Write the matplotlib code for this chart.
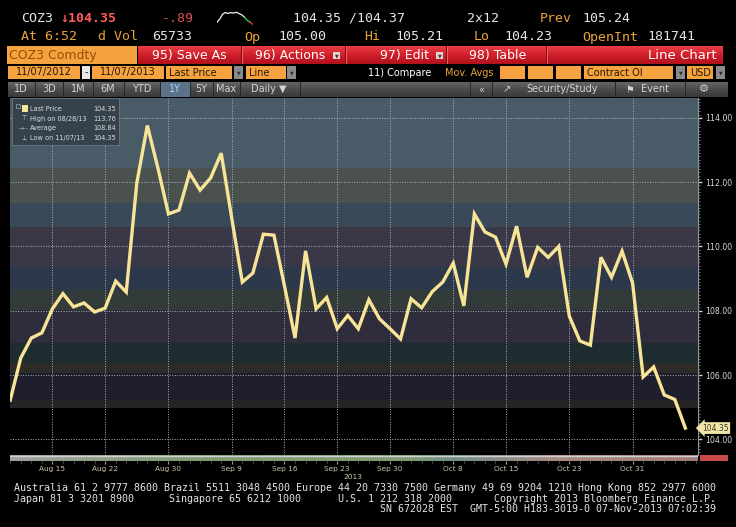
import numpy as np
import pandas as pd
import matplotlib
matplotlib.use('Agg')
import matplotlib.pyplot as plt
from matplotlib.patches import Rectangle
from matplotlib import font_manager as fm
from matplotlib.ticker import MultipleLocator
from matplotlib.colors import LinearSegmentedColormap
from matplotlib.transforms import blended_transform_factory

# ---------------- data ----------------
dates = pd.bdate_range('2013-08-09', '2013-11-07')
prices = [105.22, 106.53, 107.15, 107.31, 108.06, 108.53, 108.12, 108.24, 107.96, 108.08,
          108.92, 108.58, 111.97, 113.76, 112.44, 111.01, 111.13, 112.28, 111.75, 112.13,
          112.90, 110.88, 108.89, 109.17, 110.38, 110.35, 108.77, 107.15, 109.86, 108.06,
          108.41, 107.44, 107.85, 107.44, 108.34, 107.75, 107.44, 107.12, 108.37, 108.09,
          108.59, 108.89, 109.48, 108.15, 111.01, 110.45, 110.29, 109.45, 110.63, 109.04,
          109.97, 109.66, 110.00, 107.83, 107.06, 106.93, 109.66, 109.04, 109.85, 108.86,
          105.94, 106.25, 105.38, 105.24, 104.35]
tick_dates = ['2013-08-15', '2013-08-22', '2013-08-30', '2013-09-09', '2013-09-16',
              '2013-09-23', '2013-09-30', '2013-10-08', '2013-10-15', '2013-10-23',
              '2013-10-31']
tick_labels = ['Aug 15', 'Aug 22', 'Aug 30', 'Sep 9', 'Sep 16', 'Sep 23', 'Sep 30',
               'Oct 8', 'Oct 15', 'Oct 23', 'Oct 31']
y_ticks = [104, 106, 108, 110, 112, 114]
last_price = 104.35
legend_labels = ['Last Price', 'High on 08/28/13', 'Average', 'Low on 11/07/13']
legend_values = ['104.35', '113.76', '108.84', '104.35']
spark_values = [3, 5, 8, 9, 8.5, 9, 8.7, 9.2, 8.4, 7.5, 6, 4, 3, 1.5]

W, H = 736, 527
fig = plt.figure(figsize=(W / 100, H / 100), dpi=100, facecolor='black')

names = {f.name for f in fm.fontManager.ttflist}
NARROW = 'Liberation Sans Narrow' if 'Liberation Sans Narrow' in names else 'DejaVu Sans'
MONO = ['DejaVu Sans Mono', 'DejaVu Sans']


def fx(x):
    return x / W


def fy(y):
    return 1 - y / H


def ftext(x, y, s, **kw):
    kw.setdefault('va', 'center')
    return fig.text(fx(x), fy(y), s, **kw)


def frect(x0, y0, x1, y1, fc, ec='none', lw=0, alpha=1.0, z=1):
    r = Rectangle((fx(x0), fy(y1)), (x1 - x0) / W, (y1 - y0) / H,
                  transform=fig.transFigure, facecolor=fc, edgecolor=ec,
                  linewidth=lw, alpha=alpha, zorder=z)
    fig.patches.append(r)
    return r


# ---------------- header rows ----------------
WHITE = '#e6e6e6'
AMBER = '#eba33a'
RED = '#ff5a5a'
row1 = 18
row2 = 37
ftext(21, row1, 'COZ3', color=WHITE, fontsize=9.5, family=MONO)
ftext(60, row1, '\u2193104.35', color=RED, fontsize=9.5, family=MONO, fontweight='bold')
ftext(162, row1, '-.89', color='#e05050', fontsize=9.5, family=MONO)
ftext(293, row1, '104.35 /104.37', color=WHITE, fontsize=9.5, family=MONO)
ftext(467, row1, '2x12', color=WHITE, fontsize=9.5, family=MONO)
ftext(540, row1, 'Prev', color=AMBER, fontsize=9.5, family=MONO)
ftext(582, row1, '105.24', color=WHITE, fontsize=9.5, family=MONO)

row2_items = [(21, 'At 6:52', AMBER), (98, 'd Vol', AMBER), (152, '65733', WHITE),
              (244, 'Op', AMBER), (278, '105.00', WHITE), (364, 'Hi', AMBER),
              (395, '105.21', WHITE), (474, 'Lo', AMBER), (504, '104.23', WHITE),
              (582, 'OpenInt', AMBER), (647, '181741', WHITE)]
for x, s, c in row2_items:
    ftext(x, row2, s, color=c, fontsize=9.5, family=MONO)

# sparkline
sp = fig.add_axes([fx(217), fy(27), 36 / W, 16 / H])
sp.axis('off')
sp.set_facecolor('none')
n_sp = len(spark_values)
sp.plot(range(n_sp - 3), spark_values[:n_sp - 3], color='#f0f0f0', lw=0.9)
sp.plot(range(n_sp - 4, n_sp - 1), spark_values[n_sp - 4:n_sp - 1], color='#3ccf4e', lw=0.9)
sp.plot(range(n_sp - 2, n_sp), spark_values[n_sp - 2:], color='#ff3030', lw=0.9)
sp.set_xlim(0, n_sp - 1)
sp.set_ylim(0, 10)

# red bar
frect(7, 46, 137, 64, '#f4a340', z=2)
ftext(9, 55, 'COZ3 Comdty', color='#9a4c00', fontsize=9, family=NARROW, zorder=3)
rb = fig.add_axes([fx(138), fy(64), (723 - 138) / W, 18 / H])
rb.axis('off')
red_cmap = LinearSegmentedColormap.from_list('r', ['#ec3c44', '#cf1f2a', '#b0121c'])
rb.imshow(np.linspace(0, 1, 50)[:, None], aspect='auto', cmap=red_cmap,
          extent=[0, 1, 0, 1], origin='upper')
rb.set_xlim(0, 1)
rb.set_ylim(0, 1)
for sx in [241, 345, 446, 546]:
    frect(sx, 46, sx + 1, 64, '#7a0c12', z=3)
    frect(sx + 1, 46, sx + 2, 64, '#f06068', z=3)
btns = [(152, '95) Save As'), (255, '96) Actions'), (380, '97) Edit'), (469, '98) Table')]
for x, s in btns:
    ftext(x, 55.5, s, color='white', fontsize=9, family=NARROW, zorder=4)
for dx in [333, 436]:
    frect(dx, 52, dx + 7, 59, '#d8d8d8', z=4)
    ftext(dx + 3.5, 55.5, '\u25bc', color='#702020', fontsize=3.5, ha='center', zorder=5)
ftext(717, 55.5, 'Line Chart', color='white', fontsize=9.5, family=NARROW, ha='right', zorder=4)

# row 4 : option boxes
row4 = 72.5
boxes = [(8, 80, '11/07/2012'), (92, 164, '11/07/2013'), (166, 232, 'Last Price'),
         (246, 286, 'Line'), (500, 525, ''), (528, 553, ''), (556, 581, ''),
         (584, 673, 'Contract OI'), (687, 713, 'USD')]
for x0, x1, s in boxes:
    frect(x0, 66, x1, 79, '#f4a340', z=2)
    if s:
        ftext(x0 + 3 if s[0] != '1' else (x0 + x1) / 2, row4, s, color='#2a1800',
              fontsize=7, family=NARROW, zorder=3,
              ha='left' if s[0] != '1' else 'center')
frect(82, 66, 90, 79, '#e8e8e8', z=2)
ftext(86, row4, '-', color='#222222', fontsize=7, ha='center', zorder=3)
for dx in [234, 287, 676, 716]:
    frect(dx, 66, dx + 9, 79, '#8a8a8a', z=2)
    ftext(dx + 4.5, row4, '\u25bc', color='#303030', fontsize=3.5, ha='center', zorder=3)
ftext(368, row4, '11) Compare', color='white', fontsize=7, family=NARROW)
ftext(445, row4, 'Mov. Avgs', color=AMBER, fontsize=7, family=NARROW)

# row 5 : toolbar
tb = fig.add_axes([fx(8), fy(97), (728 - 8) / W, 15 / H])
tb.axis('off')
grey_cmap = LinearSegmentedColormap.from_list('g', ['#666666', '#4a4a4a', '#3a3a3a'])
tb.imshow(np.linspace(0, 1, 30)[:, None], aspect='auto', cmap=grey_cmap,
          extent=[0, 1, 0, 1], origin='upper')
tb.set_xlim(0, 1)
tb.set_ylim(0, 1)
frect(160, 82, 190, 97, '#5d7189', z=3)
tool_items = [(21, '1D'), (49, '3D'), (78, '1M'), (108, '6M'), (142, 'YTD'), (175, '1Y'),
              (201, '5Y'), (226, 'Max')]
for x, s in tool_items:
    ftext(x, 89.5, s, color='#a9d6ff' if s == '1Y' else '#d4d4d4', fontsize=7,
          family=NARROW, ha='center', zorder=4)
for sx in [35, 63, 93, 124, 160, 190, 213, 240, 300, 470, 492, 615, 685]:
    frect(sx, 82, sx + 1, 97, '#262626', z=4)
ftext(251, 89.5, 'Daily \u25bc', color='#d4d4d4', fontsize=7, family=NARROW, zorder=4)
ftext(481, 89.5, '\u00ab', color='#d4d4d4', fontsize=7, ha='center', zorder=4)
ftext(507, 89.5, '\u2197', color='#d4d4d4', fontsize=7, ha='center', zorder=4)
ftext(526, 89.5, 'Security/Study', color='#d4d4d4', fontsize=7, family=NARROW, zorder=4)
ftext(630, 89.5, '\u2691', color='#d4d4d4', fontsize=7, ha='center', zorder=4)
ftext(641, 89.5, 'Event', color='#d4d4d4', fontsize=7, family=NARROW, zorder=4)
ftext(704, 89.5, '\u2699', color='#d4d4d4', fontsize=8, ha='center', zorder=4)

# ---------------- main chart ----------------
PT, PB, PL, PR = 98, 455, 10, 698
ax = fig.add_axes([fx(PL), fy(PB), (PR - PL) / W, (PB - PT) / H])
ax.set_facecolor('black')
YMIN, YMAX = 103.512, 114.616
ax.set_xlim(-0.02, 65.2)
ax.set_ylim(YMIN, YMAX)


def v_of_px(y):
    return YMAX - (y - PT) / (PB - PT) * (YMAX - YMIN)


band_edges = [98, 168, 203, 227, 267, 290, 310, 343, 363, 373, 400, 408]
band_colors = ['#495b67', '#4a514e', '#3a4957', '#3a3847', '#2c394b', '#333b3a',
               '#2f2c3c', '#1d2c2e', '#2c2b28', '#1f1e2d', '#252527']
for (a, b), c in zip(zip(band_edges[:-1], band_edges[1:]), band_colors):
    ax.axhspan(v_of_px(b), v_of_px(a), color=c, lw=0, zorder=0)

x_idx = np.arange(len(prices))
tick_pos = dates.get_indexer(pd.to_datetime(tick_dates))

ax.set_xticks(tick_pos)
ax.set_xticklabels([])
ax.tick_params(axis='x', length=0)
ax.set_yticks(y_ticks)
ax.grid(True, which='major', color='#aab4bc', ls=(0, (1, 1.6)), lw=0.7, zorder=1)
ax.plot(x_idx, prices, color='#f8e497', lw=2.4, solid_joinstyle='miter', zorder=3)

ax.yaxis.tick_right()
ax.set_yticklabels([f'{v:.2f}' for v in y_ticks])
ax.yaxis.set_minor_locator(MultipleLocator(0.1))
ax.tick_params(axis='y', which='major', length=3, width=1, color='#c8c8c8',
               labelsize=5.6, labelcolor='#d8d8d8', pad=2)
ax.tick_params(axis='y', which='minor', length=1.5, width=0.6, color='#7e8288')
for side in ['top', 'left', 'bottom']:
    ax.spines[side].set_visible(False)
ax.spines['right'].set_color('#8d949a')
ax.spines['right'].set_linewidth(0.8)
for lbl in ax.get_yticklabels():
    lbl.set_family(NARROW)

# last price tag
bt = blended_transform_factory(ax.transAxes, ax.transData)
ax.text(1.006, last_price, '104.35', transform=bt, fontsize=5.5, color='#3a3a2a',
        va='center', ha='left', family=NARROW, zorder=6, clip_on=False,
        bbox=dict(boxstyle='larrow,pad=0.18', fc='#f2e6a6', ec='none'))

# legend box
frect(12, 98, 119, 145, '#34414b', ec='#6c7a86', lw=0.6, alpha=0.95, z=5)
frect(22, 105, 28, 112, '#f8e497', z=6)
frect(16, 104, 20, 108, 'none', ec='#9aa4ac', lw=0.5, z=6)
frect(17.6, 108, 18.1, 138, '#8a949c', z=6)
legend_y = [109, 119, 128, 138]
icons = ['', '\u22a4', '-+-', '\u22a5']
for y, lab, val, ic in zip(legend_y, legend_labels, legend_values, icons):
    ftext(30, y, lab, color='#dcdcdc', fontsize=4.7, family=NARROW, zorder=7)
    ftext(116, y, val, color='#dcdcdc', fontsize=4.7, family=NARROW, ha='right', zorder=7)
    if ic:
        ftext(24, y, ic, color='#d0d0d0', fontsize=4.5, ha='center', zorder=7)

# ---------------- x strip & labels ----------------
sax = fig.add_axes([fx(PL), fy(461), (PR - PL) / W, 6 / H])
strip_cmap = LinearSegmentedColormap.from_list(
    's', [(0.0, '#a0a0a0'), (0.12, '#8fa088'), (0.3, '#7e9a6e'), (0.58, '#7f9c72'),
          (0.64, '#6f9088'), (0.8, '#a98a82'), (1.0, '#a07c78')])
sax.imshow(np.linspace(0, 1, 300)[None, :], aspect='auto', cmap=strip_cmap,
           extent=[-0.02, 65.2, 0, 1])
sax.axhline(0.85, color='#d0d0d0', lw=1)
sax.set_xlim(-0.02, 65.2)
sax.set_ylim(0, 1)
sax.set_yticks([])
for s in sax.spines.values():
    s.set_visible(False)
sax.set_xticks(tick_pos)
sax.set_xticklabels(tick_labels)
sax.xaxis.set_minor_locator(MultipleLocator(1))
sax.tick_params(axis='x', which='major', length=2.5, color='#9a9a9a', labelsize=5.3,
                labelcolor='#cfc6a6', pad=1)
sax.tick_params(axis='x', which='minor', length=1.5, color='#6a6a6a')
for lbl in sax.get_xticklabels():
    lbl.set_family(NARROW)
frect(700, 455, 728, 461, '#c84a48', z=2)
ftext(353, 477, '2013', color='#cfc6a6', fontsize=5.3, family=NARROW, ha='center')

# ---------------- footer ----------------
FOOT = '#e4e4e4'
ftext(14, 488, 'Australia 61 2 9777 8600 Brazil 5511 3048 4500 Europe 44 20 7330 7500 '
      'Germany 49 69 9204 1210 Hong Kong 852 2977 6000', color=FOOT, fontsize=7.2, family=MONO)
ftext(14, 499, 'Japan 81 3 3201 8900', color=FOOT, fontsize=7.2, family=MONO)
ftext(169, 499, 'Singapore 65 6212 1000', color=FOOT, fontsize=7.2, family=MONO)
ftext(338, 499, 'U.S. 1 212 318 2000', color=FOOT, fontsize=7.2, family=MONO)
ftext(716, 499, 'Copyright 2013 Bloomberg Finance L.P.', color=FOOT, fontsize=7.2,
      family=MONO, ha='right')
ftext(716, 509, 'SN 672028 EST  GMT-5:00 H183-3019-0 07-Nov-2013 07:02:39', color=FOOT,
      fontsize=7.2, family=MONO, ha='right')

fig.savefig('out.png', dpi=100, facecolor='black')
